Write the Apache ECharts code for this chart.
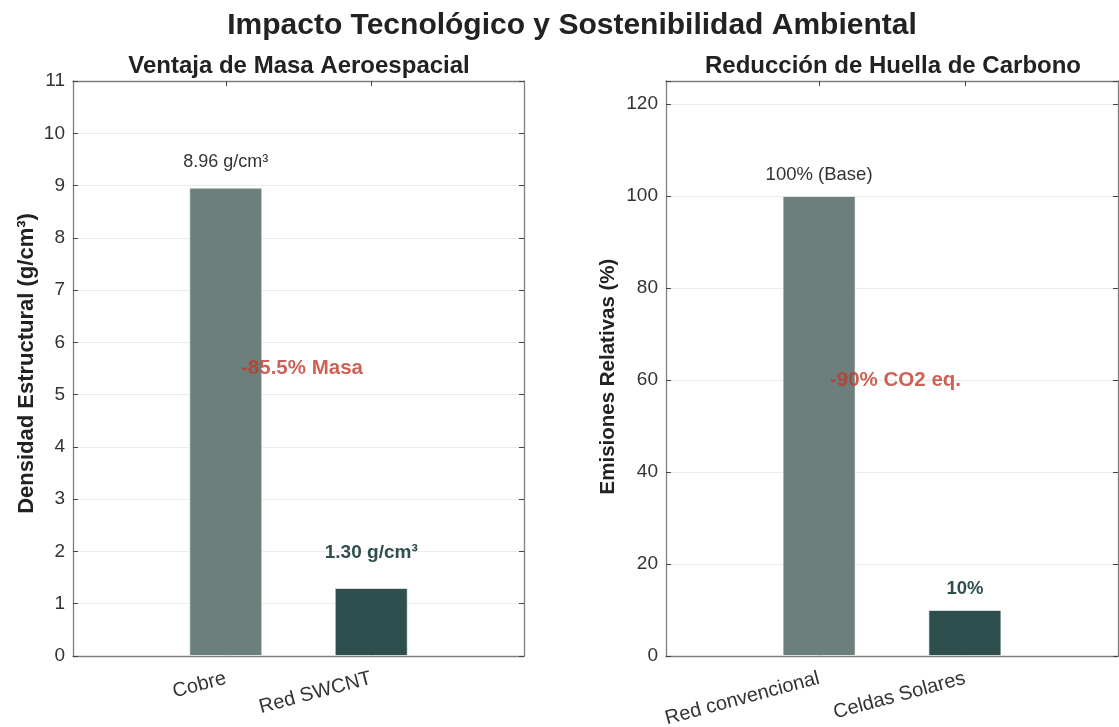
<!DOCTYPE html>
<html>
<head>
<meta charset="utf-8">
<script src="https://cdn.jsdelivr.net/npm/echarts@6/dist/echarts.min.js"></script>
<style>
  html, body { margin: 0; padding: 0; background: #ffffff; }
  #chart { width: 1119px; height: 727px; }
</style>
</head>
<body>
<div id="chart"></div>
<script>
// ---- data ----
const massCategories = ['Cobre', 'Red SWCNT'];
const massValues = [8.96, 1.30];
const massTicks = [0, 1, 2, 3, 4, 5, 6, 7, 8, 9, 10, 11];

const carbonCategories = ['Red convencional', 'Celdas Solares'];
const carbonValues = [100, 10];
const carbonTicks = [0, 20, 40, 60, 80, 100, 120];

// ---- styling ----
const FONT = '"Liberation Sans", Arial, Helvetica, sans-serif';
const LIGHT_BAR = '#6b7f7d';
const DARK_BAR = '#2f4f4f';
const ACCENT = '#c0392b';
const TEXT = '#333333';
const FRAME = '#7f7f7f';

const chart = echarts.init(document.getElementById('chart'), null, { renderer: 'canvas' });

const pct = (a, b, digits) => ((b - a) / a * 100).toFixed(digits);

function xAxes(gridIndex, cats) {
  const positions = cats.map((_, i) => i);
  const base = {
    type: 'value', gridIndex, min: -1.05, max: 2.05,
    splitLine: { show: false },
    axisLine: { show: true, onZero: false, lineStyle: { color: FRAME, width: 1.3 } },
    axisTick: { show: true, inside: true, length: 5, customValues: positions, lineStyle: { color: '#444', width: 1 } }
  };
  return [
    Object.assign({}, base, {
      position: 'bottom',
      axisLabel: {
        customValues: positions, rotate: 15, margin: 22,
        fontSize: 20, color: TEXT, fontFamily: FONT,
        padding: [0, 0, 0, 8],
        formatter: v => cats[Math.round(v)]
      }
    }),
    Object.assign({}, base, { position: 'top', axisLabel: { show: false } })
  ];
}

function yAxes(gridIndex, ticks, max, name, nameGap, nameSize, namePadding) {
  const interval = ticks[1] - ticks[0];
  const base = {
    type: 'value', gridIndex, min: 0, max, interval,
    axisLine: { show: true, onZero: false, lineStyle: { color: FRAME, width: 1.3 } },
    axisTick: { show: true, inside: true, length: 5, lineStyle: { color: '#444', width: 1 } }
  };
  return [
    Object.assign({}, base, {
      position: 'left',
      name, nameLocation: 'middle', nameGap,
      nameTextStyle: { fontSize: nameSize, fontWeight: 'bold', color: '#222', fontFamily: FONT, padding: namePadding },
      splitLine: { show: true, lineStyle: { color: '#ebebeb', width: 1 } },
      axisLabel: {
        customValues: ticks, fontSize: 19, color: TEXT, fontFamily: FONT, margin: 8
      }
    }),
    Object.assign({}, base, {
      position: 'right',
      splitLine: { show: false },
      axisLabel: { show: false }
    })
  ];
}

function barSeries(axisIdx, values, labelFmts) {
  const colors = [LIGHT_BAR, DARK_BAR];
  return {
    type: 'bar',
    xAxisIndex: axisIdx.x, yAxisIndex: axisIdx.y,
    barWidth: 73,
    data: values.map((v, i) => ({
      value: [i, v],
      itemStyle: { color: colors[i], borderColor: 'rgba(255,255,255,0.6)', borderWidth: 1 },
      label: Object.assign({
        show: true, position: 'top', fontFamily: FONT,
        distance: labelFmts[i].distance,
        formatter: p => labelFmts[i].fmt(p.value[1])
      }, labelFmts[i].style)
    })),
    z: 2
  };
}

function note(axisIdx, x, y, text) {
  return {
    type: 'scatter',
    xAxisIndex: axisIdx.x, yAxisIndex: axisIdx.y,
    symbolSize: 1,
    itemStyle: { color: 'rgba(0,0,0,0)' },
    silent: true,
    z: 5,
    data: [[x, y]],
    label: {
      show: true, position: 'inside', formatter: () => text,
      fontSize: 20.5, fontWeight: 'bold', color: ACCENT, fontFamily: FONT
    }
  };
}

const plainLabel = size => ({ fontSize: size, fontWeight: 'normal', color: TEXT });
const boldLabel = size => ({ fontSize: size, fontWeight: 'bold', color: DARK_BAR });

const option = {
  backgroundColor: '#ffffff',
  animation: false,
  title: [
    { text: 'Impacto Tecnológico y Sostenibilidad Ambiental', left: 567, top: 6, textAlign: 'center',
      textStyle: { fontSize: 30, fontWeight: 'bold', color: '#222', fontFamily: FONT } },
    { text: 'Ventaja de Masa Aeroespacial', left: 294, top: 49, textAlign: 'center',
      textStyle: { fontSize: 24, fontWeight: 'bold', color: '#222', fontFamily: FONT } },
    { text: 'Reducción de Huella de Carbono', left: 888, top: 49, textAlign: 'center',
      textStyle: { fontSize: 24, fontWeight: 'bold', color: '#222', fontFamily: FONT } }
  ],
  grid: [
    { left: 73, top: 81, width: 451, height: 575, outerBoundsMode: 'none' },
    { left: 666, top: 81, width: 452, height: 575, outerBoundsMode: 'none' }
  ],
  xAxis: [].concat(xAxes(0, massCategories), xAxes(1, carbonCategories)),
  yAxis: [].concat(
    yAxes(0, massTicks, 11, 'Densidad Estructural (g/cm³)', 35, 22, [0, 0, 0, 10]),
    yAxes(1, carbonTicks, 125, 'Emisiones Relativas (%)', 47, 20.5, [0, 16, 0, 0])
  ),
  series: [
    barSeries({ x: 0, y: 0 }, massValues, [
      { fmt: v => v.toFixed(2) + ' g/cm³', distance: 17, style: plainLabel(18) },
      { fmt: v => v.toFixed(2) + ' g/cm³', distance: 26, style: boldLabel(19) }
    ]),
    note({ x: 0, y: 0 }, 0.524, 5.5, pct(massValues[0], massValues[1], 1) + '% Masa'),
    barSeries({ x: 2, y: 2 }, carbonValues, [
      { fmt: v => v.toFixed(0) + '% (Base)', distance: 12, style: plainLabel(18.5) },
      { fmt: v => v.toFixed(0) + '%', distance: 12, style: boldLabel(18.5) }
    ]),
    note({ x: 2, y: 2 }, 0.524, 60, pct(carbonValues[0], carbonValues[1], 0) + '% CO2 eq.')
  ]
};

chart.setOption(option);
</script>
</body>
</html>
